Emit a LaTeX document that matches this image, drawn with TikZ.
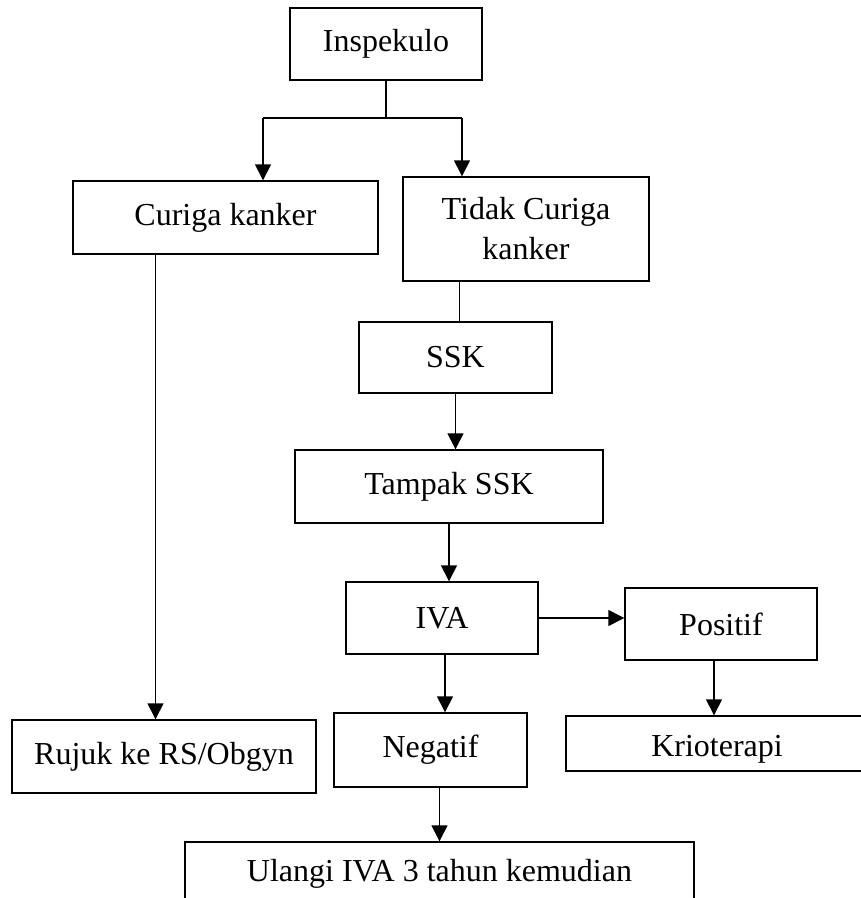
\documentclass[tikz,border=0pt]{standalone}
\usepackage{fontspec}
\setmainfont{Liberation Serif}
\usetikzlibrary{arrows.meta}

\begin{document}
\begin{tikzpicture}[x=1pt,y=-1pt,
  kotak/.style={draw,line width=1.4pt,inner sep=0pt,align=center,font=\fontsize{32}{40}\selectfont},
  garis/.style={line width=1.4pt},
  panah/.style={line width=1.4pt,-{Triangle[length=16pt,width=16pt]}}]
\clip (0,0) rectangle (861,898);
\node [kotak,minimum width=192pt,minimum height=72pt] (insp) at (386,44) {Inspekulo};
\node [kotak,minimum width=305pt,minimum height=73pt] (curiga) at (225.5,217.5) {Curiga kanker};
\node [kotak,minimum width=246pt,minimum height=104pt] (tidak) at (526,229) {Tidak Curiga\\kanker};
\node [kotak,minimum width=193pt,minimum height=71pt] (ssk) at (455.5,357.5) {SSK};
\node [kotak,minimum width=308pt,minimum height=73pt] (tampak) at (449,486.5) {Tampak SSK};
\node [kotak,minimum width=192pt,minimum height=72pt] (iva) at (442,618) {IVA};
\node [kotak,minimum width=192pt,minimum height=72pt] (positif) at (721,624) {Positif};
\node [kotak,minimum width=304pt,minimum height=73pt] (rujuk) at (164,756.5) {Rujuk ke RS/Obgyn};
\node [kotak,minimum width=193pt,minimum height=74pt] (negatif) at (430.5,750) {Negatif};
\node [kotak,minimum width=302pt,minimum height=55pt,text height=32pt,text depth=7pt] (krio) at (717,743.5) {Krioterapi};
\node [kotak,minimum width=509pt,minimum height=64pt] (ulangi) at (439.5,874) {Ulangi IVA 3 tahun kemudian};
\coordinate (cabang) at (386,118);
\coordinate (kiri) at (263,118);
\coordinate (kanan) at (462,118);
\draw [garis] (insp.south) -- (cabang);
\draw [garis] (kiri) -- (kanan);
\draw [panah] (kiri) -- (kiri |- curiga.north);
\draw [panah] (kanan) -- (kanan |- tidak.north);
\draw [panah] ([xshift=-70pt]curiga.south) -- ([xshift=-70pt]curiga.south |- rujuk.north);
\draw [garis] ([xshift=4pt]ssk.north |- tidak.south) -- ([xshift=4pt]ssk.north);
\draw [panah] (ssk.south) -- (ssk.south |- tampak.north);
\draw [panah] (tampak.south) -- (tampak.south |- iva.north);
\draw [panah] (iva.east) -- (iva.east -| positif.west);
\draw [panah] ([xshift=3pt]iva.south) -- ([xshift=3pt]iva.south |- negatif.north);
\draw [panah] ([xshift=-3pt]krio.north |- positif.south) -- ([xshift=-3pt]krio.north);
\draw [panah] (ulangi.north |- negatif.south) -- (ulangi.north);
\end{tikzpicture}
\end{document}
